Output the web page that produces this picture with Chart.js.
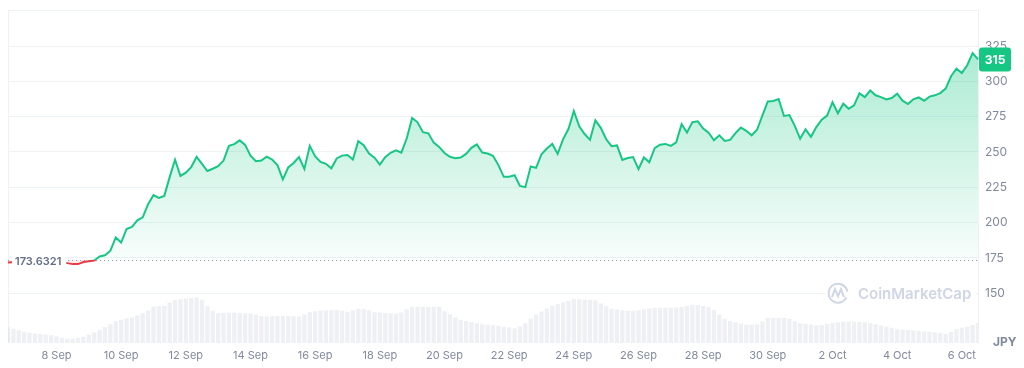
<!DOCTYPE html>
<html>
<head>
<meta charset="utf-8">
<script src="https://cdn.jsdelivr.net/npm/chart.js@4/dist/chart.umd.min.js"></script>
<style>
  html, body { margin: 0; padding: 0; background: #ffffff; }
  #wrap { width: 1024px; height: 368px; position: relative; }
</style>
</head>
<body>
<div id="wrap"><canvas id="c" width="1024" height="368"></canvas></div>
<script>
// ---- Data ----
// Series start 6 Sep 12:00, one sample every 4 hours, ending 6 Oct 12:00
const startUTC = Date.UTC(2023, 8, 6, 12, 0);
const stepHours = 4;

const priceJPY = [
  171.7, 172.0, 172.3, 171.8, 172.5, 172.9, 172.4, 172.0, 171.6, 172.2,
  171.5, 171.3, 170.6, 170.6, 172.1, 172.6, 173.2, 176.0, 176.8, 180.1,
  189.5, 185.9, 195.5, 196.9, 201.6, 203.7, 213.0, 219.5, 217.5, 218.9,
  232.2, 244.5, 233.0, 235.3, 239.3, 246.5, 241.5, 236.5, 238.1, 239.9,
  243.9, 254.3, 255.5, 258.2, 255.0, 247.4, 243.4, 243.9, 246.6, 244.7,
  240.7, 230.6, 239.0, 242.2, 246.4, 238.0, 254.3, 246.9, 243.0, 241.6,
  238.4, 245.4, 247.4, 247.9, 244.7, 257.6, 254.8, 248.9, 245.9, 241.0,
  246.3, 249.4, 251.1, 249.5, 259.7, 274.0, 271.0, 264.0, 263.2, 256.6,
  253.6, 249.3, 246.6, 245.6, 246.1, 248.6, 252.9, 255.4, 249.6, 248.9,
  247.3, 240.7, 232.4, 232.5, 233.5, 226.0, 225.1, 239.7, 238.7, 248.4,
  252.4, 255.7, 248.6, 258.9, 266.2, 279.0, 268.2, 262.7, 258.6, 272.4,
  267.1, 259.0, 254.1, 254.6, 244.4, 245.7, 246.4, 237.8, 246.1, 242.7,
  252.7, 255.1, 255.7, 254.3, 256.8, 269.7, 263.8, 271.1, 271.7, 266.6,
  263.6, 258.3, 261.8, 257.8, 258.5, 263.3, 267.3, 265.0, 261.8, 265.7,
  275.9, 285.8, 286.1, 287.5, 275.5, 276.1, 268.5, 259.3, 266.0, 260.7,
  267.6, 272.8, 275.8, 285.2, 277.4, 284.2, 280.6, 283.0, 291.5, 288.8,
  293.5, 290.1, 288.8, 287.2, 288.2, 291.3, 286.3, 283.9, 287.3, 288.6,
  286.3, 289.2, 290.1, 291.7, 294.9, 303.6, 308.9, 305.9, 311.4, 320.0,
  315.5
];

const volume = [
  15.7, 14.2, 12.7, 11.0, 10.0, 9.5, 8.9, 8.4, 7.8, 6.6,
  5.2, 4.3, 4.3, 5.3, 6.3, 8.2, 10.7, 12.8, 16.0, 18.8,
  21.8, 23.2, 24.4, 25.4, 27.4, 29.7, 32.4, 36.3, 36.6, 36.9,
  40.3, 42.8, 43.5, 44.2, 44.7, 45.5, 43.1, 36.7, 32.2, 29.8,
  30.0, 30.1, 30.2, 29.9, 29.5, 29.2, 28.2, 26.8, 26.4, 26.6,
  26.8, 27.0, 26.8, 26.6, 26.3, 28.4, 30.7, 31.6, 32.3, 32.5,
  32.7, 32.9, 32.2, 31.0, 32.5, 34.0, 33.8, 32.5, 30.6, 30.3,
  29.9, 29.6, 29.2, 30.5, 33.5, 36.0, 36.0, 36.0, 36.0, 36.0,
  36.0, 31.6, 28.6, 25.6, 23.1, 21.9, 20.8, 19.6, 18.7, 18.2,
  17.6, 17.1, 16.3, 15.5, 14.6, 16.5, 19.7, 24.5, 28.4, 31.4,
  34.5, 37.0, 38.9, 40.5, 41.9, 43.6, 43.6, 43.2, 42.9, 42.4,
  39.4, 36.5, 33.9, 33.3, 32.7, 32.1, 32.0, 32.7, 33.5, 34.3,
  35.0, 35.1, 35.1, 35.2, 35.3, 35.8, 36.9, 38.0, 38.0, 36.9,
  35.8, 32.9, 28.4, 24.1, 21.9, 20.5, 19.3, 18.1, 18.3, 18.6,
  21.5, 25.0, 25.0, 25.0, 25.0, 24.0, 21.7, 19.7, 19.1, 18.4,
  17.6, 17.8, 19.0, 19.8, 20.6, 21.2, 21.5, 21.2, 20.9, 20.6,
  19.8, 18.6, 17.4, 16.2, 15.0, 13.9, 13.4, 13.0, 12.6, 12.1,
  11.7, 11.1, 10.5, 9.8, 9.1, 11.3, 14.0, 15.2, 16.1, 18.0,
  20.0
];

const yTickValues = [150, 175, 200, 225, 250, 275, 300, 325, 350];
const baselinePrice = 173.6321;
const currentPriceLabel = '315';
const currencyLabel = 'JPY';
const watermarkText = 'CoinMarketCap';
const monthNames = ['Jan','Feb','Mar','Apr','May','Jun','Jul','Aug','Sep','Oct','Nov','Dec'];

// category labels (timestamps)
const timestamps = priceJPY.map((_, i) => startUTC + i * stepHours * 3600 * 1000);

// ---- Styling ----
const GREEN = '#16c784';
const RED = '#ea3943';
const GRID = '#eff2f5';
const TICK = '#808a9d';
const FONT = 'Inter, "Noto Sans", "DejaVu Sans", sans-serif';

function lineColor(ctx) {
  const chart = ctx.chart;
  const ca = chart.chartArea;
  if (!ca) return GREEN;
  const yb = chart.scales.y.getPixelForValue(baselinePrice);
  const f = Math.min(1, Math.max(0, (yb - ca.top) / (ca.bottom - ca.top)));
  const g = chart.ctx.createLinearGradient(0, ca.top, 0, ca.bottom);
  g.addColorStop(0, GREEN); g.addColorStop(f, GREEN);
  g.addColorStop(f, RED); g.addColorStop(1, RED);
  return g;
}
function fillColor(ctx) {
  const chart = ctx.chart;
  const ca = chart.chartArea;
  if (!ca) return 'rgba(22,199,132,0.2)';
  const yb = chart.scales.y.getPixelForValue(baselinePrice);
  const f = Math.min(1, Math.max(0, (yb - ca.top) / (ca.bottom - ca.top)));
  const g = chart.ctx.createLinearGradient(0, ca.top, 0, ca.bottom);
  g.addColorStop(0, 'rgba(22,199,132,0.42)');
  g.addColorStop(f, 'rgba(22,199,132,0.03)');
  g.addColorStop(f, 'rgba(234,57,67,0.08)');
  g.addColorStop(1, 'rgba(234,57,67,0.02)');
  return g;
}

const decorPlugin = {
  id: 'decor',
  beforeDatasetsDraw(chart) {
    const { ctx, chartArea: ca, scales } = chart;
    ctx.save();
    // left border
    ctx.strokeStyle = GRID; ctx.lineWidth = 1;
    ctx.beginPath(); ctx.moveTo(ca.left + 0.5, ca.top); ctx.lineTo(ca.left + 0.5, ca.bottom); ctx.stroke();
    // dotted baseline
    const yb = Math.round(scales.y.getPixelForValue(baselinePrice)) + 0.5;
    ctx.strokeStyle = '#9aa3b5'; ctx.setLineDash([1.2, 2.8]);
    ctx.beginPath(); ctx.moveTo(ca.left, yb); ctx.lineTo(ca.right, yb); ctx.stroke();
    ctx.setLineDash([]);
    // watermark
    const wy = scales.y.getPixelForValue(150);
    ctx.font = '600 15px ' + FONT;
    const tw = ctx.measureText(watermarkText).width;
    const cx = 838, r = 9.5;
    const tx = 858;
    ctx.fillStyle = '#ffffff';
    ctx.fillRect(cx - r - 3, wy - 12, (tx + tw + 4) - (cx - r - 3), 24);
    ctx.strokeStyle = '#cfd6e4'; ctx.lineWidth = 2;
    ctx.beginPath(); ctx.arc(cx, wy, r, 0.15 * Math.PI, 1.95 * Math.PI); ctx.stroke();
    ctx.beginPath();
    ctx.moveTo(cx - 6, wy + 4); ctx.lineTo(cx - 3, wy - 4); ctx.lineTo(cx, wy + 3);
    ctx.lineTo(cx + 3, wy - 4); ctx.lineTo(cx + 6, wy + 4);
    ctx.stroke();
    ctx.fillStyle = '#cfd6e4'; ctx.textBaseline = 'middle'; ctx.textAlign = 'left';
    ctx.fillText(watermarkText, tx, wy + 1);
    ctx.restore();
  },
  afterDraw(chart) {
    const { ctx, chartArea: ca, scales } = chart;
    ctx.save();
    // baseline label
    const yb = scales.y.getPixelForValue(baselinePrice);
    ctx.font = '600 11px ' + FONT;
    const label = baselinePrice.toString();
    const lw = ctx.measureText(label).width;
    ctx.fillStyle = '#ffffff';
    ctx.fillRect(ca.left + 4, yb - 7, lw + 8, 15);
    ctx.fillStyle = '#616e85'; ctx.textBaseline = 'middle'; ctx.textAlign = 'left';
    ctx.fillText(label, ca.left + 7, yb + 2);
    // current price badge
    const last = priceJPY[priceJPY.length - 1];
    const yl = scales.y.getPixelForValue(last);
    const bx = ca.right + 1, bw = 32, bh = 24;
    ctx.fillStyle = GREEN;
    ctx.beginPath();
    if (ctx.roundRect) ctx.roundRect(bx, yl - bh / 2, bw, bh, 3); else ctx.rect(bx, yl - bh / 2, bw, bh);
    ctx.fill();
    ctx.fillStyle = '#ffffff'; ctx.font = '700 12px ' + FONT; ctx.textAlign = 'center';
    ctx.fillText(currentPriceLabel, bx + bw / 2, yl + 0.5);
    // currency label
    ctx.fillStyle = TICK; ctx.font = '700 12px ' + FONT; ctx.textAlign = 'left';
    ctx.fillText(currencyLabel, ca.right + 15, ca.bottom - 1);
    ctx.restore();
  }
};

new Chart(document.getElementById('c'), {
  data: {
    labels: timestamps,
    datasets: [
      {
        type: 'line',
        data: priceJPY,
        yAxisID: 'y',
        order: 0,
        borderColor: lineColor,
        backgroundColor: fillColor,
        borderWidth: 2,
        pointRadius: 0,
        tension: 0,
        fill: { target: { value: baselinePrice } }
      },
      {
        type: 'bar',
        data: volume,
        yAxisID: 'yv',
        order: 1,
        backgroundColor: 'rgba(200,206,218,0.3)',
        barPercentage: 0.8,
        categoryPercentage: 1
      }
    ]
  },
  options: {
    responsive: false,
    animation: false,
    layout: { padding: { left: 8, top: 10, right: 0, bottom: 0 } },
    plugins: { legend: { display: false }, tooltip: { enabled: false } },
    scales: {
      x: {
        type: 'category',
        offset: false,
        grid: { display: false, drawTicks: false },
        border: { display: false },
        ticks: {
          autoSkip: false, maxRotation: 0, padding: 6,
          color: TICK, font: { family: FONT, size: 11 },
          callback: function (val, idx) {
            const d = new Date(timestamps[idx]);
            if (d.getUTCHours() === 0 && d.getUTCDate() % 2 === 0 && !(d.getUTCMonth() === 8 && d.getUTCDate() < 8)) {
              return d.getUTCDate() + ' ' + monthNames[d.getUTCMonth()];
            }
            return null;
          }
        },
        afterFit: (s) => { s.height = 25; }
      },
      y: {
        position: 'right',
        min: 114.75,
        max: 350.5,
        afterBuildTicks: (s) => { s.ticks = yTickValues.map(v => ({ value: v })); },
        grid: { color: GRID, drawTicks: false },
        border: { display: true, color: GRID },
        ticks: {
          padding: 7, color: TICK, font: { family: FONT, size: 12 },
          callback: (v) => (v === 350 ? '' : String(v))
        },
        afterFit: (s) => { s.width = 46; s.paddingTop = 0; }
      },
      yv: {
        display: false,
        min: 0,
        max: Math.max(...volume) * 7.29
      }
    }
  },
  plugins: [decorPlugin]
});
</script>
</body>
</html>
